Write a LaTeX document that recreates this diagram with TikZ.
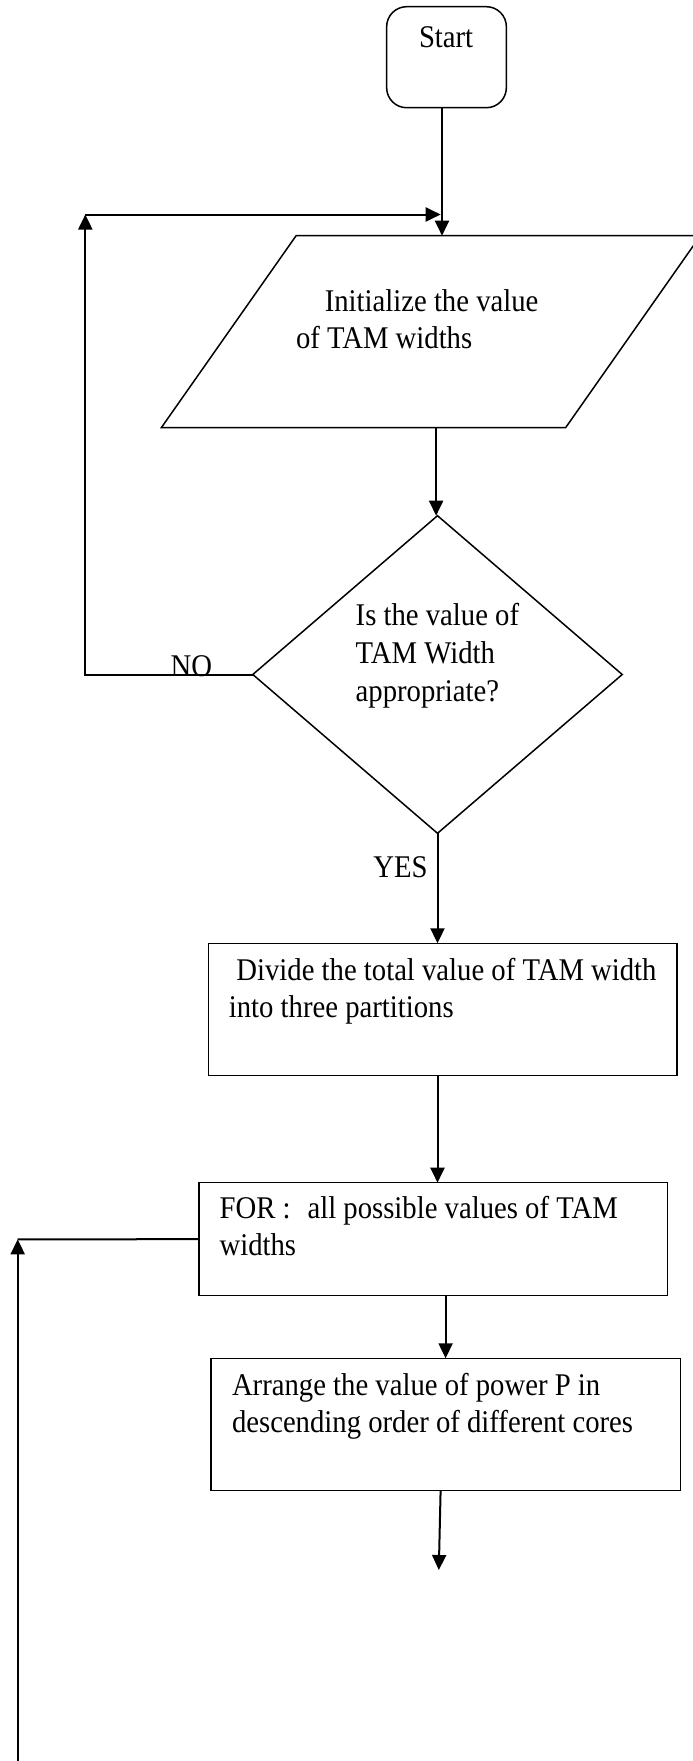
\documentclass[tikz,border=0pt]{standalone}
\usepackage{graphicx}
\usepackage{fontspec}
\setmainfont{Liberation Serif}
\usetikzlibrary{arrows.meta,shapes.geometric}

% slightly tall lettering
\newcommand{\talltext}[1]{\scalebox{1}[1.1]{#1}}

\tikzset{
  shape line/.style={draw=black, line width=1.5pt},
  stepbox/.style={shape line, rectangle, inner sep=0pt, outer sep=0pt},
  startbox/.style={shape line, rectangle, rounded corners=20pt, inner sep=0pt, outer sep=0pt},
  testbox/.style={shape line, diamond, inner sep=0pt, outer sep=0pt},
  conn/.style={draw=black, line width=2pt},
  arr/.style={conn, -{Triangle[length=15pt,width=14pt]}},
  txt/.style={anchor=base west, inner sep=0pt, outer sep=0pt,
              font=\fontsize{28.7}{34}\selectfont},
}

\begin{document}
\begin{tikzpicture}[x=1pt, y=-1pt]
  \useasboundingbox (0,0) rectangle (693,1761);
  \clip (0,0) rectangle (693,1761);

  % start terminal
  \node[startbox, minimum width=119.7pt, minimum height=101pt] (start) at (446.5,57.2) {};
  \node[txt] (start-t) at (419,48) {\talltext{Start}};

  % input: initialise the TAM widths (parallelogram)
  \draw[shape line] (296.1,235.7) -- (700.4,235.7) -- (565.6,427.7) -- (161.3,427.7) -- cycle;
  \coordinate (init-in)  at (442,235.7);
  \coordinate (init-out) at (436.1,427.7);
  \node[txt] (init-t1) at (324.8,311.7) {\talltext{Initialize the value}};
  \node[txt] (init-t2) at (296,348.3) {\talltext{of TAM widths}};

  % decision
  \node[testbox, minimum width=369.4pt, minimum height=317.6pt] (dec) at (437.5,674.5) {};
  \node[txt] (dec-t1) at (355.7,625) {\talltext{Is the value of}};
  \node[txt] (dec-t2) at (355.7,663.3) {\talltext{TAM Width}};
  \node[txt] (dec-t3) at (355.7,701.7) {\talltext{appropriate?}};

  % process boxes
  \node[stepbox, minimum width=468.4pt, minimum height=132.4pt] (divide) at (442.8,1009.5) {};
  \node[txt] (divide-t1) at (236.4,980) {\talltext{Divide the total value of TAM width}};
  \node[txt] (divide-t2) at (228.9,1017.3) {\talltext{into three partitions}};

  \node[stepbox, minimum width=468.5pt, minimum height=113pt] (for) at (433,1239.2) {};
  \node[txt] (for-t1) at (219.6,1218.3) {\talltext{FOR :\hspace{17pt}all possible values of TAM}};
  \node[txt] (for-t2) at (219.6,1255) {\talltext{widths}};

  \node[stepbox, minimum width=469.7pt, minimum height=132.4pt] (arrange) at (445.6,1424.5) {};
  \node[txt] (arrange-t1) at (232,1395) {\talltext{Arrange the value of power P in}};
  \node[txt] (arrange-t2) at (232,1432.7) {\talltext{descending order of different cores}};

  % branch labels
  \node[txt] (no)  at (170.7,676) {\talltext{NO}};
  \node[txt] (yes) at (373.4,877.3) {\talltext{YES}};

  % loop points
  \coordinate (retry)     at (85.3,214.5);
  \coordinate (retry-end) at (440.7,214.5);
  \coordinate (back)      at (17.7,1239.3);
  \coordinate (back-in)   at (17.7,1770);
  \coordinate (next)      at (438.8,1570);

  % main flow
  \draw[arr] (start.south -| init-in) -- (init-in);
  \draw[arr] (init-out) -- (init-out |- dec.north);
  \draw[arr] (dec.south) -- (dec.south |- divide.north);
  \draw[arr] (divide.south -| dec.south) -- (dec.south |- for.north);
  \draw[arr] (arrange.north |- for.south) -- (arrange.north);
  \draw[arr] ([xshift=-5pt]arrange.south) -- (next);

  % NO branch back to the input
  \draw[arr] (dec.west) -| (retry);
  \draw[arr] (retry) -- (retry-end);

  % loop back into FOR
  \draw[arr] (back-in) -- (back);
  \draw[conn] (for.west) -- (back);
\end{tikzpicture}
\end{document}
